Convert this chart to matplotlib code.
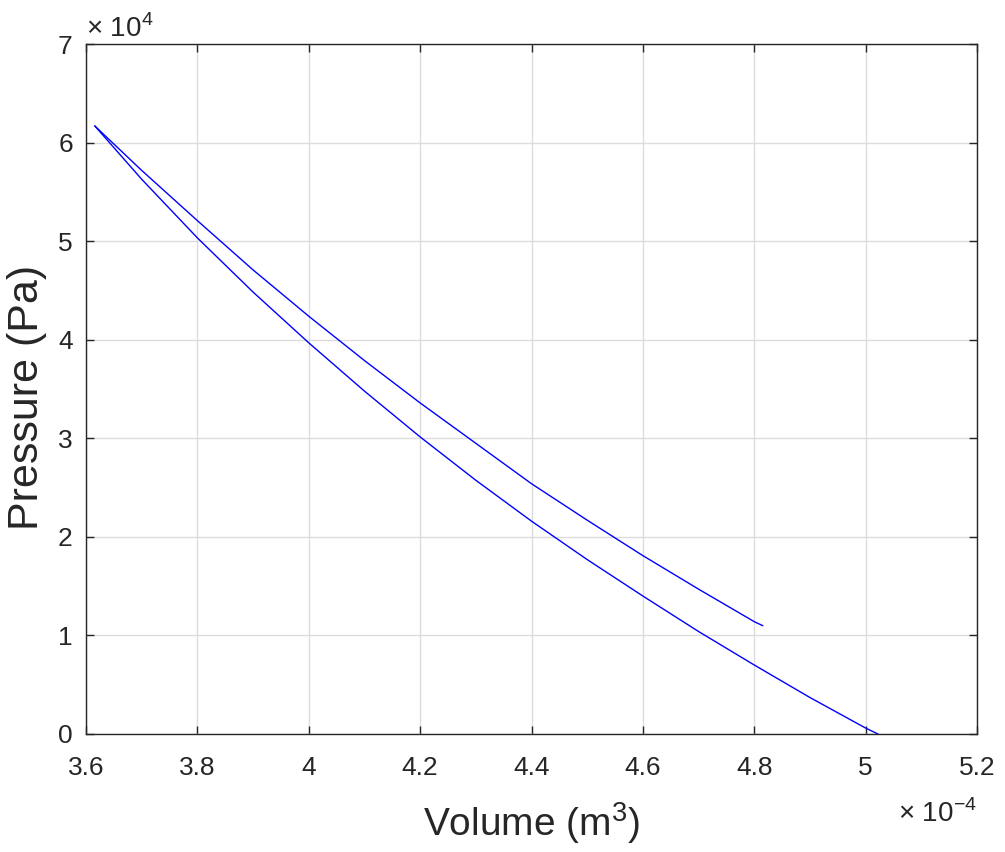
import matplotlib.pyplot as plt
from matplotlib.ticker import FuncFormatter

plt.rcParams['font.family'] = ['Liberation Sans', 'DejaVu Sans']
plt.rcParams['mathtext.fontset'] = 'custom'
plt.rcParams['mathtext.rm'] = 'Liberation Sans'

# volumen (m^3) y presion (Pa)
vol_sup = [3.616e-4, 3.70e-4, 3.80e-4, 3.90e-4, 4.00e-4, 4.10e-4, 4.20e-4, 4.30e-4,
           4.40e-4, 4.50e-4, 4.60e-4, 4.70e-4, 4.80e-4, 4.815e-4]
pres_sup = [6.17e4, 5.72e4, 5.21e4, 4.71e4, 4.24e4, 3.79e4, 3.36e4, 2.95e4,
            2.54e4, 2.17e4, 1.81e4, 1.47e4, 1.14e4, 1.10e4]

vol_inf = [3.616e-4, 3.70e-4, 3.80e-4, 3.90e-4, 4.00e-4, 4.10e-4, 4.20e-4, 4.30e-4,
           4.40e-4, 4.50e-4, 4.60e-4, 4.70e-4, 4.80e-4, 4.90e-4, 5.00e-4, 5.022e-4]
pres_inf = [6.17e4, 5.63e4, 5.035e4, 4.485e4, 3.97e4, 3.48e4, 3.015e4, 2.575e4,
            2.16e4, 1.77e4, 1.40e4, 1.04e4, 0.70e4, 0.37e4, 0.06e4, 0.0]

xticks = [3.6e-4, 3.8e-4, 4.0e-4, 4.2e-4, 4.4e-4, 4.6e-4, 4.8e-4, 5.0e-4, 5.2e-4]
yticks = [0, 1e4, 2e4, 3e4, 4e4, 5e4, 6e4, 7e4]

fig = plt.figure(figsize=(10.05, 8.52), dpi=100)
ax = fig.add_axes([0.0856, 0.1385, 0.8866, 0.8095])

ax.plot(vol_sup, pres_sup, color='blue', linewidth=1.0)
ax.plot(vol_inf, pres_inf, color='blue', linewidth=1.0)

ax.set_xlim(3.6e-4, 5.2e-4)
ax.set_ylim(0, 7e4)
ax.set_xticks(xticks)
ax.set_yticks(yticks)
ax.xaxis.set_major_formatter(FuncFormatter(lambda v, p: '%g' % round(v / 1e-4, 6)))
ax.yaxis.set_major_formatter(FuncFormatter(lambda v, p: '%g' % round(v / 1e4, 6)))

ax.grid(True, color='#dcdcdc', linewidth=1.0)
ax.set_axisbelow(True)
for s in ax.spines.values():
    s.set_color('#262626')
    s.set_linewidth(1.0)
ax.tick_params(direction='in', top=True, right=True, length=6, width=1.0,
               colors='#262626', labelsize=19)
ax.tick_params(axis='x', pad=15.5)
ax.tick_params(axis='y', pad=9.5)

ax.set_xlabel('Volume (m$^3$)', fontsize=28, color='#262626', va='baseline')
ax.xaxis.set_label_coords(0.5, -0.148)
ax.set_ylabel('Pressure (Pa)', fontsize=31, color='#262626', va='center')
ax.yaxis.set_label_coords(-0.066, 0.488)

fig.text(86 / 1005, 1 - 37 / 852, '× 10$^{4}$', fontsize=20, color='#262626',
         ha='left', va='baseline')
fig.text(977 / 1005, 1 - 822 / 852, '× 10$^{-4}$', fontsize=20, color='#262626',
         ha='right', va='baseline')

plt.savefig('out.png', dpi=100)
